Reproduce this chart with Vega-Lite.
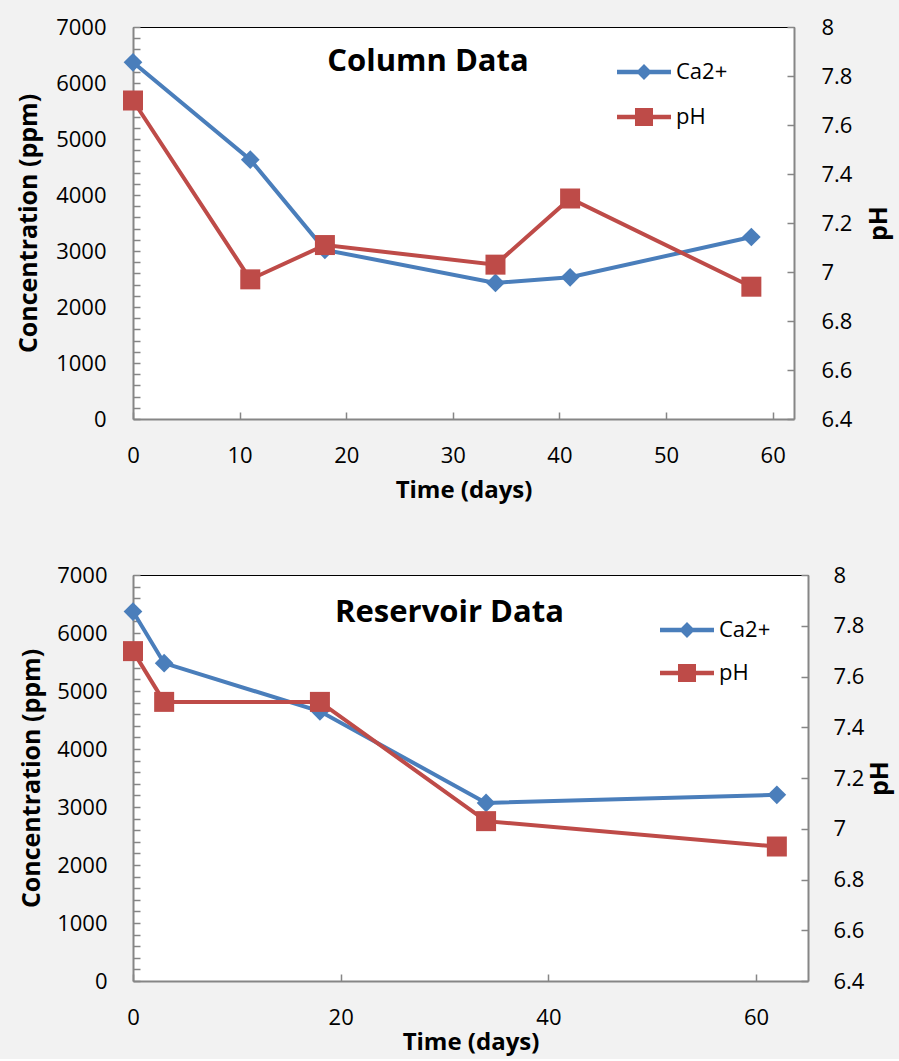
{
  "$schema": "https://vega.github.io/schema/vega-lite/v6.json",
  "background": "#f2f2f2",
  "padding": {"left": 16, "top": 16, "right": 6, "bottom": 5},
  "datasets": {
    "column": [
      {"series": "Ca2+", "day": 0, "value": 6370},
      {"series": "Ca2+", "day": 11, "value": 4630},
      {"series": "Ca2+", "day": 18, "value": 3020},
      {"series": "Ca2+", "day": 34, "value": 2430},
      {"series": "Ca2+", "day": 41, "value": 2530},
      {"series": "Ca2+", "day": 58, "value": 3250},
      {"series": "pH", "day": 0, "value": 7.70},
      {"series": "pH", "day": 11, "value": 6.97},
      {"series": "pH", "day": 18, "value": 7.11},
      {"series": "pH", "day": 34, "value": 7.03},
      {"series": "pH", "day": 41, "value": 7.30},
      {"series": "pH", "day": 58, "value": 6.94}
    ],
    "reservoir": [
      {"series": "Ca2+", "day": 0, "value": 6370},
      {"series": "Ca2+", "day": 3, "value": 5480},
      {"series": "Ca2+", "day": 18, "value": 4650},
      {"series": "Ca2+", "day": 34, "value": 3070},
      {"series": "Ca2+", "day": 62, "value": 3210},
      {"series": "pH", "day": 0, "value": 7.70},
      {"series": "pH", "day": 3, "value": 7.50},
      {"series": "pH", "day": 18, "value": 7.50},
      {"series": "pH", "day": 34, "value": 7.03},
      {"series": "pH", "day": 62, "value": 6.93}
    ]
  },
  "columns": 1,
  "spacing": 62,
  "resolve": {"scale": {"color": "independent"}, "legend": {"color": "independent"}},
  "concat": [
    {
      "width": 661,
      "height": 392,
      "data": {"name": "column"},
      "title": {"text": "Column Data", "font": "Open Sans", "fontSize": 31, "fontWeight": "bold", "color": "#000000", "anchor": "middle", "frame": "group", "baseline": "middle", "offset": -44, "dx": -35.5, "dy": 33},
      "layer": [
        {
          "transform": [{"filter": "datum.series === 'Ca2+'"}],
          "mark": {"type": "line", "strokeWidth": 4, "point": {"filled": true, "shape": "diamond", "size": 350, "opacity": 1}},
          "encoding": {
            "x": {"field": "day", "type": "quantitative", "scale": {"domain": [0, 62], "nice": false},
              "axis": {"orient": "bottom", "values": [0, 10, 20, 30, 40, 50, 60], "format": "d", "labelPadding": 33, "title": "Time (days)", "titlePadding": 12}},
            "y": {"field": "value", "type": "quantitative", "scale": {"domain": [0, 7000], "nice": false},
              "axis": {"orient": "left", "values": [0,200,400,600,800,1000,1200,1400,1600,1800,2000,2200,2400,2600,2800,3000,3200,3400,3600,3800,4000,4200,4400,4600,4800,5000,5200,5400,5600,5800,6000,6200,6400,6600,6800,7000], "format": "d", "labelExpr": "datum.value % 1000 === 0 ? datum.label : ''", "labelPadding": 34, "title": "Concentration (ppm)", "titleFontSize": 25, "titlePadding": 14}},
            "color": {"field": "series", "type": "nominal", "scale": {"domain": ["Ca2+", "pH"], "range": ["#4A7EBB", "#BE4B48"]},
              "legend": {"orient": "none", "legendX": 497.5, "legendY": 31.5, "title": null, "padding": 0, "labelFont": "Open Sans", "labelFontSize": 22, "labelColor": "#000000", "symbolSize": 729, "rowPadding": 20, "labelOffset": 18.5,
                "encode": {"symbols": {"update": {
                  "shape": {"signal": "datum.value === 'Ca2+' ? 'M-2,-0.167L-0.423,-0.167L0,-0.59L0.423,-0.167L2,-0.167L2,0.167L0.423,0.167L0,0.59L-0.423,0.167L-2,0.167Z' : 'M-2,-0.167L-0.667,-0.167L-0.667,-0.667L0.667,-0.667L0.667,-0.167L2,-0.167L2,0.167L0.667,0.167L0.667,0.667L-0.667,0.667L-0.667,0.167L-2,0.167Z'"},
                  "fill": {"signal": "datum.value === 'Ca2+' ? '#4A7EBB' : '#BE4B48'"},
                  "stroke": {"value": "transparent"},
                  "strokeWidth": {"value": 0},
                  "opacity": {"value": 1},
                  "size": {"value": 729}}}}}}
          }
        },
        {
          "transform": [{"filter": "datum.series === 'pH'"}],
          "mark": {"type": "line", "strokeWidth": 4, "point": {"filled": true, "shape": "square", "size": 400, "opacity": 1}},
          "encoding": {
            "x": {"field": "day", "type": "quantitative", "scale": {"domain": [0, 62], "nice": false},
              "axis": {"orient": "top", "labels": false, "ticks": false, "title": null, "domainColor": "#000000", "domainWidth": 1.2}},
            "y": {"field": "value", "type": "quantitative", "scale": {"domain": [6.4, 8], "nice": false},
              "axis": {"orient": "right", "values": [6.4, 6.6, 6.8, 7, 7.2, 7.4, 7.6, 7.8, 8], "format": ".1~f", "labelPadding": 34, "title": "pH", "titleFontSize": 25, "titleAngle": -90, "titleBaseline": "top", "titlePadding": 15}},
            "color": {"field": "series", "type": "nominal", "scale": {"domain": ["Ca2+", "pH"], "range": ["#4A7EBB", "#BE4B48"]}}
          }
        }
      ],
      "resolve": {"scale": {"y": "independent"}, "axis": {"x": "independent"}}
    },
    {
      "width": 675,
      "height": 406,
      "data": {"name": "reservoir"},
      "title": {"text": "Reservoir Data", "font": "Open Sans", "fontSize": 31, "fontWeight": "bold", "color": "#000000", "anchor": "middle", "frame": "group", "baseline": "middle", "offset": -45, "dx": -21, "dy": 35},
      "layer": [
        {
          "transform": [{"filter": "datum.series === 'Ca2+'"}],
          "mark": {"type": "line", "strokeWidth": 4, "point": {"filled": true, "shape": "diamond", "size": 350, "opacity": 1}},
          "encoding": {
            "x": {"field": "day", "type": "quantitative", "scale": {"domain": [0, 65], "nice": false},
              "axis": {"orient": "bottom", "values": [0, 20, 40, 60], "format": "d", "labelPadding": 33, "title": "Time (days)", "titlePadding": 2}},
            "y": {"field": "value", "type": "quantitative", "scale": {"domain": [0, 7000], "nice": false},
              "axis": {"orient": "left", "values": [0,200,400,600,800,1000,1200,1400,1600,1800,2000,2200,2400,2600,2800,3000,3200,3400,3600,3800,4000,4200,4400,4600,4800,5000,5200,5400,5600,5800,6000,6200,6400,6600,6800,7000], "format": "d", "labelExpr": "datum.value % 1000 === 0 ? datum.label : ''", "labelPadding": 33, "title": "Concentration (ppm)", "titleFontSize": 25, "titlePadding": 12}},
            "color": {"field": "series", "type": "nominal", "scale": {"domain": ["Ca2+", "pH"], "range": ["#4A7EBB", "#BE4B48"]},
              "legend": {"orient": "none", "legendX": 540.5, "legendY": 41.5, "title": null, "padding": 0, "labelFont": "Open Sans", "labelFontSize": 22, "labelColor": "#000000", "symbolSize": 729, "rowPadding": 18, "labelOffset": 18.5,
                "encode": {"symbols": {"update": {
                  "shape": {"signal": "datum.value === 'Ca2+' ? 'M-2,-0.167L-0.423,-0.167L0,-0.59L0.423,-0.167L2,-0.167L2,0.167L0.423,0.167L0,0.59L-0.423,0.167L-2,0.167Z' : 'M-2,-0.167L-0.667,-0.167L-0.667,-0.667L0.667,-0.667L0.667,-0.167L2,-0.167L2,0.167L0.667,0.167L0.667,0.667L-0.667,0.667L-0.667,0.167L-2,0.167Z'"},
                  "fill": {"signal": "datum.value === 'Ca2+' ? '#4A7EBB' : '#BE4B48'"},
                  "stroke": {"value": "transparent"},
                  "strokeWidth": {"value": 0},
                  "opacity": {"value": 1},
                  "size": {"value": 729}}}}}}
          }
        },
        {
          "transform": [{"filter": "datum.series === 'pH'"}],
          "mark": {"type": "line", "strokeWidth": 4, "point": {"filled": true, "shape": "square", "size": 400, "opacity": 1}},
          "encoding": {
            "x": {"field": "day", "type": "quantitative", "scale": {"domain": [0, 65], "nice": false},
              "axis": {"orient": "top", "labels": false, "ticks": false, "title": null, "domainColor": "#000000", "domainWidth": 1.2}},
            "y": {"field": "value", "type": "quantitative", "scale": {"domain": [6.4, 8], "nice": false},
              "axis": {"orient": "right", "values": [6.4, 6.6, 6.8, 7, 7.2, 7.4, 7.6, 7.8, 8], "format": ".1~f", "labelPadding": 32, "title": "pH", "titleFontSize": 25, "titleAngle": -90, "titleBaseline": "top", "titlePadding": 4}},
            "color": {"field": "series", "type": "nominal", "scale": {"domain": ["Ca2+", "pH"], "range": ["#4A7EBB", "#BE4B48"]}}
          }
        }
      ],
      "resolve": {"scale": {"y": "independent"}, "axis": {"x": "independent"}}
    }
  ],
  "config": {
    "font": "Open Sans",
    "view": {"fill": "#ffffff", "stroke": null},
    "axis": {
      "grid": false,
      "domainColor": "#868686",
      "domainWidth": 2,
      "tickColor": "#868686",
      "tickWidth": 1.5,
      "tickSize": -7,
      "labelFont": "Open Sans",
      "labelFontSize": 22,
      "labelColor": "#000000",
      "labelFlush": false,
      "labelOverlap": false,
      "labelBound": false,
      "titleFont": "Open Sans",
      "titleFontSize": 24,
      "titleFontWeight": "bold",
      "titleColor": "#000000"
    }
  }
}
